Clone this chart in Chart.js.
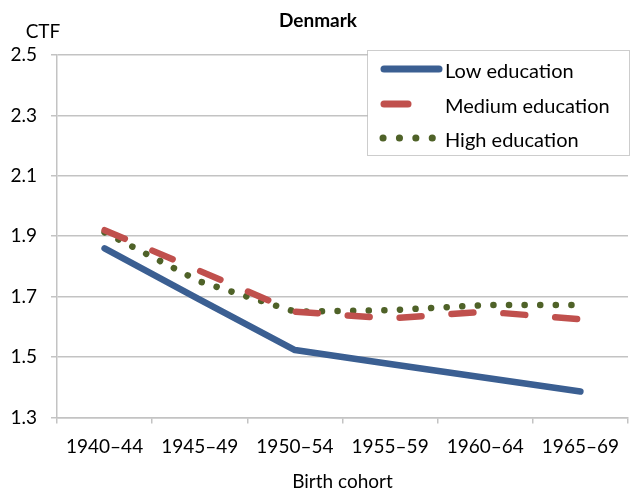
<!DOCTYPE html>
<html>
<head>
<meta charset="utf-8">
<script src="https://cdn.jsdelivr.net/npm/chart.js@4.4.0/dist/chart.umd.min.js"></script>
<style>
	body { margin: 0; background: #fff; }
	#wrap { width: 632px; height: 493px; position: relative; }
</style>
</head>
<body>
<div id="wrap"><canvas id="ctfChart"></canvas></div>
<script>
// data
const cohorts = ['1940–44', '1945–49', '1950–54', '1955–59', '1960–64', '1965–69'];
const lowEdu = [1.86, 1.69, 1.523, 1.477, 1.431, 1.386];
const mediumEdu = [1.92, 1.785, 1.65, 1.628, 1.65, 1.625];
const highEdu = [1.913, 1.75, 1.65, 1.655, 1.672, 1.672];
const yTicks = [1.3, 1.5, 1.7, 1.9, 2.1, 2.3, 2.5];

const FONT = 'Lato, "Open Sans", sans-serif';
const gridColor = '#c3c3c3';

let ctx = document.getElementById('ctfChart').getContext('2d');

let ctfChart = new Chart(ctx, {
	type: 'line',
	data: {
		labels: cohorts,
		datasets: [{
			label: 'Low education',
			data: lowEdu,
			borderColor: '#3b5f92',
			borderWidth: 6.5,
			borderCapStyle: 'round',
			borderJoinStyle: 'round',
			pointRadius: 0
		}, {
			label: 'Medium education',
			data: mediumEdu,
			borderColor: '#c0504d',
			borderWidth: 6.5,
			borderDash: [22, 30],
			borderCapStyle: 'round',
			pointRadius: 0
		}, {
			label: 'High education',
			data: highEdu,
			borderColor: '#4f6228',
			borderWidth: 6.5,
			borderDash: [0.1, 15.5],
			borderCapStyle: 'round',
			pointRadius: 0
		}]
	},
	options: {
		responsive: true,
		maintainAspectRatio: false,
		animation: false,
		layout: { padding: { top: 55, right: 4, left: 5, bottom: 0 } },
		plugins: {
			legend: { display: false },
			tooltip: { enabled: false }
		},
		scales: {
			x: {
				offset: true,
				grid: { offset: true, drawOnChartArea: false, color: gridColor, lineWidth: 1.5, tickLength: 6 },
				border: { color: gridColor, width: 1.5 },
				ticks: { color: '#000', font: { family: FONT, size: 19 }, padding: 12, maxRotation: 0 },
				title: { display: true, text: 'Birth cohort', color: '#000', font: { family: FONT, size: 19 }, padding: { top: 0, bottom: 0 } }
			},
			y: {
				min: 1.3,
				max: 2.5,
				afterBuildTicks: function(scale) {
					scale.ticks = yTicks.map(v => ({ value: v }));
				},
				afterFit: function(scale) { scale.width = 52; },
				grid: { color: gridColor, lineWidth: 1.5, tickLength: 6 },
				border: { color: gridColor, width: 1.5 },
				ticks: {
					color: '#000',
					font: { family: FONT, size: 19 },
					padding: 14,
					callback: v => v.toFixed(1)
				}
			}
		}
	},
	plugins: [{
		id: 'extraText',
		afterDraw(chart) {
			const c = chart.ctx;
			c.save();
			c.fillStyle = '#000';
			c.textAlign = 'center';
			c.textBaseline = 'middle';
			c.font = 'bold 19px ' + FONT;
			c.fillText('Denmark', 318, 21);
			c.font = '19px ' + FONT;
			c.fillText('CTF', 43, 32);
			c.restore();
		}
	}, {
		id: 'boxLegend',
		afterDraw(chart) {
			const c = chart.ctx;
			const box = { x: 367.5, y: 50.5, w: 262, h: 105 };
			c.save();
			c.fillStyle = '#fff';
			c.fillRect(box.x, box.y, box.w, box.h);
			c.strokeStyle = '#9a9a9a';
			c.lineWidth = 1;
			c.setLineDash([1, 1]);
			c.strokeRect(box.x, box.y, box.w, box.h);

			const rows = [69, 104, 138];
			chart.data.datasets.forEach((ds, i) => {
				const y = rows[i];
				c.strokeStyle = ds.borderColor;
				c.lineWidth = 7;
				c.lineCap = 'round';
				if (i === 0) {
					c.setLineDash([]);
					c.beginPath(); c.moveTo(384, y); c.lineTo(439, y); c.stroke();
				} else if (i === 1) {
					c.setLineDash([]);
					c.beginPath(); c.moveTo(384, y); c.lineTo(408, y); c.stroke();
				} else {
					c.setLineDash([0.1, 16.3]);
					c.beginPath(); c.moveTo(383, y); c.lineTo(433, y); c.stroke();
				}
				c.setLineDash([]);
				c.fillStyle = '#000';
				c.font = '20px ' + FONT;
				c.textAlign = 'left';
				c.textBaseline = 'middle';
				c.fillText(ds.label, 445, y + 3);
			});
			c.restore();
		}
	}]
});
</script>
</body>
</html>
